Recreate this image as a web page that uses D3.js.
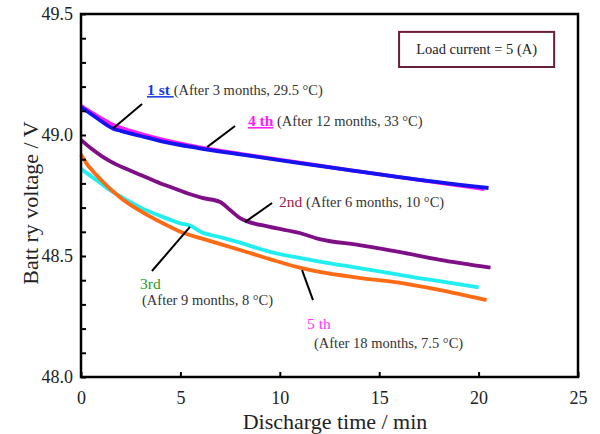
<!DOCTYPE html>
<html>
<head>
<meta charset="utf-8">
<script src="https://cdn.jsdelivr.net/npm/d3@7"></script>
<style>
  body { margin: 0; background: #fff; }
  svg { font-family: "Liberation Serif", "Times New Roman", serif; }
</style>
</head>
<body>
<svg id="chart" width="600" height="434"></svg>
<script>
// data (time in min, voltage in V)
let t1st = [0, 0.5, 1, 1.6, 2, 3, 4, 5.9, 8, 11, 13.5, 16, 20.5]
let v1st = [49.116, 49.087, 49.058, 49.027, 49.017, 48.996, 48.975, 48.946, 48.92, 48.884, 48.855, 48.826, 48.781]

let t4th = [0, 0.5, 1, 1.6, 2, 3, 4, 5.9, 8, 11, 13.5, 16, 20.3]
let v4th = [49.12, 49.095, 49.07, 49.042, 49.03, 49.005, 48.983, 48.95, 48.922, 48.886, 48.855, 48.826, 48.776]

let t2nd = [0, 0.5, 1, 1.5, 2.36, 3, 4, 4.5, 5.5, 6.1, 7, 7.5, 8, 9.5, 11, 12, 14, 16, 18, 20.6]
let v2nd = [48.98, 48.945, 48.915, 48.89, 48.857, 48.835, 48.8, 48.785, 48.755, 48.74, 48.723, 48.69, 48.657, 48.62, 48.595, 48.57, 48.545, 48.517, 48.485, 48.452]

let t3rd = [0, 0.5, 1, 1.5, 2, 3, 4, 5, 5.5, 6.1, 7, 8, 9.5, 11, 12, 14, 16.9, 18.5, 20]
let v3rd = [48.86, 48.83, 48.8, 48.77, 48.745, 48.7, 48.665, 48.635, 48.625, 48.597, 48.578, 48.555, 48.517, 48.492, 48.477, 48.45, 48.41, 48.39, 48.37]

let t5th = [0, 0.3, 0.6, 1, 1.5, 2, 3, 4, 4.5, 5, 6.1, 8, 9.5, 11, 12, 14, 16, 18, 20.4]
let v5th = [48.92, 48.88, 48.85, 48.815, 48.775, 48.74, 48.685, 48.64, 48.62, 48.6, 48.572, 48.525, 48.487, 48.452, 48.434, 48.41, 48.39, 48.36, 48.318]

let xTicks = [0, 5, 10, 15, 20, 25]
let yLabels = [48.0, 48.5, 49.0, 49.5]

let svg = d3.select("#chart")

//scales
let xscale = d3.scaleLinear().domain([0, 25]).range([81, 578])
let yscale = d3.scaleLinear().domain([48, 49.5]).range([377, 14])

function toPoints(ts, vs) {
	return ts.map((t, i) => ({t: t, v: vs[i]}))
}

let series = [
	{pts: toPoints(t3rd, v3rd), color: "#22eef0"},
	{pts: toPoints(t5th, v5th), color: "#ff6a14"},
	{pts: toPoints(t2nd, v2nd), color: "#7f0f86"},
	{pts: toPoints(t4th, v4th), color: "#ff1aff"},
	{pts: toPoints(t1st, v1st), color: "#1414ee"}
]

let line = d3.line()
	.x(d => xscale(d.t))
	.y(d => yscale(d.v))
	.curve(d3.curveMonotoneX)

//curves
svg.append("g").selectAll("path")
	.data(series)
	.enter()
	.append("path")
	.attr("d", d => line(d.pts))
	.attr("fill", "none")
	.attr("stroke", d => d.color)
	.attr("stroke-width", 3.8)
	.attr("stroke-linejoin", "round")

//y axis with inside minor ticks
let yTickVals = d3.range(48, 49.51, 0.1).map(v => +v.toFixed(1))
let yAxis = svg.append("g")
	.attr("transform", "translate(81,0)")
	.call(d3.axisLeft(yscale)
		.tickValues(yTickVals)
		.tickSize(-5)
		.tickPadding(8)
		.tickFormat(v => yLabels.some(l => Math.abs(l - v) < 1e-6) ? d3.format(".1f")(v) : ""))
yAxis.select(".domain").remove()
yAxis.selectAll("line").attr("stroke", "#000").attr("stroke-width", 2)
yAxis.selectAll("text").attr("font-size", 18).attr("fill", "#222").attr("font-family", "Liberation Serif")

//x axis
let xAxis = svg.append("g")
	.attr("transform", "translate(0,377)")
	.call(d3.axisBottom(xscale)
		.tickValues(xTicks)
		.tickSize(-5)
		.tickPadding(14)
		.tickFormat(d3.format("d")))
xAxis.select(".domain").remove()
xAxis.selectAll("line").attr("stroke", "#000").attr("stroke-width", 2)
xAxis.selectAll("text").attr("font-size", 18).attr("fill", "#222").attr("font-family", "Liberation Serif")

//frame
svg.append("rect")
	.attr("x", xscale(0))
	.attr("y", yscale(49.5))
	.attr("width", xscale(25) - xscale(0))
	.attr("height", yscale(48) - yscale(49.5))
	.attr("fill", "none")
	.attr("stroke", "#000")
	.attr("stroke-width", 2.5)

//axis titles
svg.append("text")
	.attr("x", 335)
	.attr("y", 429)
	.attr("text-anchor", "middle")
	.attr("font-size", 22)
	.attr("fill", "#222")
	.text("Discharge time / min")

svg.append("text")
	.attr("transform", "translate(38,203) rotate(-90)")
	.attr("text-anchor", "middle")
	.attr("font-size", 22)
	.attr("fill", "#222")
	.text("Batt ry voltage / V")

//legend box
let boxT = [16.0, 23.8]
let boxV = [49.426, 49.281]
svg.append("rect")
	.attr("x", xscale(boxT[0]))
	.attr("y", yscale(boxV[0]))
	.attr("width", xscale(boxT[1]) - xscale(boxT[0]))
	.attr("height", yscale(boxV[1]) - yscale(boxV[0]))
	.attr("fill", "#fff")
	.attr("stroke", "#6b1d3d")
	.attr("stroke-width", 2)
svg.append("text")
	.attr("x", (xscale(boxT[0]) + xscale(boxT[1])) / 2)
	.attr("y", (yscale(boxV[0]) + yscale(boxV[1])) / 2 + 5)
	.attr("text-anchor", "middle")
	.attr("font-size", 14.5)
	.attr("fill", "#222")
	.text("Load current = 5 (A)")

//leader lines [t1, v1, t2, v2]
let leaders = [
	[3.07, 49.128, 1.61, 49.027],
	[7.75, 49.037, 6.34, 48.95],
	[9.61, 48.719, 8.25, 48.64],
	[5.48, 48.62, 3.57, 48.438],
	[11.12, 48.442, 11.67, 48.318]
]
svg.append("g").selectAll("line")
	.data(leaders)
	.enter()
	.append("line")
	.attr("x1", d => xscale(d[0]))
	.attr("y1", d => yscale(d[1]))
	.attr("x2", d => xscale(d[2]))
	.attr("y2", d => yscale(d[3]))
	.attr("stroke", "#000")
	.attr("stroke-width", 2)

//annotations
function note(t, v, parts) {
	let txt = svg.append("text")
		.attr("x", xscale(t))
		.attr("y", yscale(v))
		.attr("font-size", 14.5)
	parts.forEach(p => {
		let s = txt.append("tspan").text(p.text).attr("fill", p.color || "#333")
		if (p.bold) s.attr("font-weight", "bold").attr("text-decoration", "underline")
		if (p.size) s.attr("font-size", p.size)
	})
}

note(3.32, 49.165, [
	{text: "1 st ", color: "#1a3ce0", bold: true, size: 15.5},
	{text: "(After 3 months, 29.5 °C)"}
])
note(8.4, 49.037, [
	{text: "4 th", color: "#ff1aff", bold: true, size: 15.5},
	{text: " (After 12 months, 33 °C)"}
])
note(9.96, 48.702, [
	{text: "2nd", color: "#9b1b4b", size: 15.5},
	{text: " (After 6 months, 10 °C)"}
])
note(2.97, 48.364, [{text: "3rd", color: "#1f9a1f", size: 15.5}])
note(3.07, 48.298, [{text: "(After 9 months, 8 °C)"}])
note(11.37, 48.2, [{text: "5 th", color: "#ff33ff", size: 15.5}])
note(11.72, 48.12, [{text: "(After 18 months, 7.5 °C)"}])
</script>
</body>
</html>
